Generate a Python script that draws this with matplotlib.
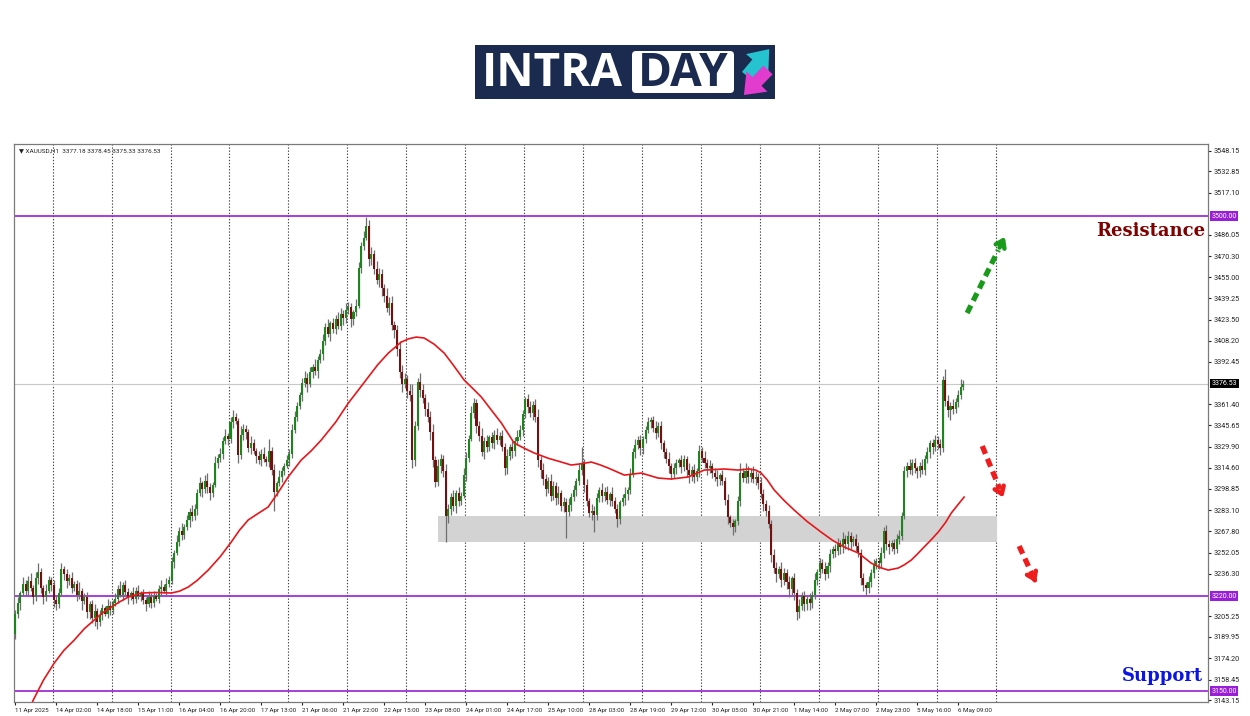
import numpy as np
import matplotlib as mpl
import matplotlib.pyplot as plt
from matplotlib.patches import Rectangle, FancyBboxPatch
from matplotlib.transforms import blended_transform_factory

mpl.rcParams["font.family"] = "DejaVu Sans"

# ---- data ----
first_open = 3192
close_px = [
    3207, 3215, 3222, 3229, 3224, 3231, 3226, 3219, 3233, 3238,
    3226, 3219, 3224, 3232, 3228, 3217, 3214, 3222, 3240, 3236,
    3231, 3233, 3226, 3229, 3221, 3224, 3216, 3219, 3208, 3214,
    3204, 3209, 3201, 3206, 3211, 3207, 3213, 3210, 3215, 3218,
    3225, 3221, 3228, 3223, 3219, 3222, 3218, 3224, 3220, 3222,
    3217, 3214, 3219, 3215, 3220, 3218, 3225, 3227, 3224, 3229,
    3232, 3245, 3252, 3260, 3268, 3265, 3271, 3276, 3282, 3279,
    3284, 3296, 3303, 3299, 3305, 3300, 3296, 3302, 3318, 3322,
    3325, 3334, 3338, 3336, 3348, 3352, 3349, 3324, 3339, 3343,
    3341, 3329, 3333, 3327, 3323, 3320, 3325, 3321, 3319, 3327,
    3313, 3297, 3303, 3308, 3312, 3316, 3320, 3325, 3342, 3352,
    3360, 3368, 3377, 3381, 3376, 3385, 3389, 3386, 3394, 3398,
    3408, 3418, 3413, 3421, 3417, 3424, 3419, 3428, 3425, 3431,
    3433, 3424, 3429, 3434, 3462, 3478, 3484, 3493, 3468, 3472,
    3461, 3453, 3457, 3447, 3441, 3432, 3436, 3420, 3416, 3402,
    3385, 3376, 3380, 3371, 3368, 3320, 3345, 3378, 3372, 3366,
    3358, 3352, 3341, 3320, 3304, 3316, 3321, 3312, 3279, 3284,
    3293, 3286, 3296, 3290, 3294, 3309, 3322, 3336, 3355, 3362,
    3345, 3338, 3326, 3334, 3330, 3337, 3333, 3339, 3335, 3338,
    3330, 3314, 3323, 3330, 3327, 3334, 3337, 3342, 3354, 3365,
    3359, 3355, 3361, 3352, 3320, 3313, 3306, 3299, 3305, 3294,
    3301, 3292, 3296, 3286, 3289, 3282, 3287, 3293, 3298, 3305,
    3313, 3318, 3302, 3290, 3281, 3283, 3280, 3292, 3298, 3294,
    3297, 3291, 3295, 3290, 3284, 3277, 3289, 3292, 3295, 3298,
    3310, 3326, 3331, 3335, 3329, 3336, 3342, 3348, 3350, 3344,
    3340, 3345, 3333, 3326, 3321, 3316, 3310, 3314, 3318, 3320,
    3315, 3321, 3313, 3309, 3313, 3308, 3312, 3327, 3322, 3318,
    3314, 3316, 3311, 3308, 3306, 3309, 3305, 3291, 3278, 3274,
    3271, 3275, 3290, 3311, 3307, 3312, 3308, 3311, 3306, 3308,
    3303, 3295, 3288, 3283, 3273, 3250, 3241, 3236, 3240, 3232,
    3237, 3230, 3225, 3233, 3222, 3208, 3213, 3220, 3214, 3218,
    3215, 3221, 3232, 3238, 3244, 3240, 3236, 3242, 3251, 3255,
    3253, 3259, 3256, 3262, 3258, 3264, 3260, 3262, 3257, 3252,
    3233, 3228, 3226, 3230, 3237, 3243, 3246, 3244, 3252, 3268,
    3258, 3256, 3259, 3255, 3262, 3264, 3279, 3312, 3316, 3313,
    3318, 3314, 3312, 3316, 3313, 3321, 3326, 3333, 3330, 3335,
    3332, 3329, 3379, 3364, 3357, 3360, 3358, 3363, 3368, 3374,
    3376.53,
]
upper_wick = [
    3, 4, 2, 5, 3, 4, 6, 2, 5, 6,  3, 2, 5, 3, 2, 4, 3, 4, 4, 2,
    4, 3, 5, 2, 3, 6, 2, 3, 4, 2,  3, 5, 2, 4, 3, 2, 5, 3, 2, 4,
    3, 6, 2, 4, 3, 2, 5, 3, 4, 2,  3, 2, 5, 3, 4, 2, 3, 5, 2, 4,
    3, 4, 2, 5, 3, 6, 2, 4, 3, 5,  4, 3, 5, 2, 4, 6, 3, 2, 5, 3,
    4, 3, 5, 2, 4, 5, 3, 2, 6, 4,  3, 2, 5, 3, 2, 4, 3, 5, 2, 9,
    3, 4, 2, 5, 3, 2, 4, 3, 5, 4,  3, 2, 4, 5, 3, 4, 2, 6, 3, 4,
    5, 3, 6, 2, 4, 3, 5, 4, 3, 5,  4, 3, 2, 5, 4, 3, 5, 6, 4, 5,
    3, 6, 5, 4, 3, 6, 4, 5, 3, 4,  6, 5, 4, 3, 5, 8, 4, 3, 6, 4,
    3, 5, 4, 6, 3, 5, 4, 3, 5, 4,  3, 5, 2, 4, 3, 5, 4, 3, 5, 4,
    3, 4, 6, 3, 5, 2, 4, 3, 5, 3,  4, 3, 5, 2, 4, 3, 5, 4, 3, 2,
    4, 5, 3, 4, 6, 3, 5, 4, 3, 5,  4, 3, 5, 2, 4, 3, 5, 3, 4, 2,
    4, 12, 3, 4, 2, 5, 3, 4, 2, 5, 3, 4, 2, 5, 3, 4, 2, 3, 5, 2,
    4, 3, 5, 3, 4, 2, 3, 4, 2, 3,  5, 3, 4, 2, 3, 5, 2, 4, 3, 2,
    4, 3, 2, 5, 3, 4, 2, 4, 3, 5,  3, 4, 2, 3, 5, 2, 4, 3, 4, 2,
    3, 2, 4, 7, 3, 6, 4, 3, 5, 4,  3, 5, 4, 3, 4, 3, 5, 4, 2, 5,
    4, 3, 5, 2, 4, 3, 5, 3, 4, 2,  4, 3, 5, 2, 4, 3, 5, 3, 4, 2,
    3, 4, 2, 5, 3, 4, 3, 2, 4, 3,  3, 4, 2, 5, 3, 4, 2, 3, 4, 3,
    4, 3, 2, 3, 4, 5, 3, 4, 3, 5,  3, 4, 2, 3, 5, 3, 4, 2, 3, 4,
    3, 4, 3, 8, 4, 3, 5, 3, 4, 6,
    3,
]
lower_wick = [
    4, 3, 5, 2, 4, 3, 2, 5, 3, 4,  4, 5, 3, 2, 4, 5, 4, 3, 2, 4,
    5, 3, 4, 2, 5, 3, 6, 2, 4, 5,  4, 6, 5, 3, 4, 2, 3, 4, 3, 2,
    3, 2, 4, 3, 5, 2, 4, 3, 2, 4,  3, 5, 2, 4, 3, 2, 3, 4, 2, 3,
    2, 3, 4, 2, 3, 4, 3, 2, 5, 4,  3, 4, 2, 6, 3, 4, 5, 3, 2, 4,
    3, 4, 2, 5, 3, 4, 2, 6, 3, 4,  5, 3, 4, 2, 5, 3, 4, 2, 3, 4,
    4, 14, 3, 2, 4, 3, 2, 4, 3, 2, 3, 2, 4, 3, 6, 2, 4, 3, 5, 2,
    4, 3, 2, 5, 3, 4, 2, 3, 5, 4,  3, 6, 4, 3, 2, 4, 3, 2, 5, 4,
    4, 3, 5, 6, 4, 3, 5, 4, 6, 5,  4, 6, 3, 5, 4, 6, 4, 3, 5, 4,
    5, 4, 6, 5, 4, 3, 5, 4, 19, 5, 4, 3, 5, 4, 3, 2, 4, 3, 2, 4,
    5, 4, 3, 5, 4, 3, 4, 5, 3, 4,  3, 5, 4, 3, 5, 4, 3, 2, 4, 3,
    4, 3, 5, 4, 5, 6, 4, 5, 3, 4,  3, 5, 4, 3, 4, 19, 3, 4, 3, 4,
    3, 4, 5, 4, 3, 5, 13, 4, 3, 5, 4, 3, 5, 4, 3, 6, 4, 3, 5, 4,
    3, 2, 4, 3, 5, 4, 3, 2, 4, 3,  4, 3, 5, 4, 3, 5, 4, 3, 4, 3,
    4, 3, 5, 6, 4, 5, 3, 4, 3, 4,  5, 3, 4, 3, 5, 4, 3, 4, 5, 3,
    6, 4, 3, 4, 3, 4, 5, 4, 3, 4,  4, 3, 5, 4, 3, 5, 4, 6, 3, 5,
    4, 5, 6, 4, 5, 6, 4, 3, 5, 4,  5, 4, 3, 4, 5, 3, 4, 3, 4, 3,
    4, 3, 5, 4, 3, 4, 5, 3, 4, 3,  5, 4, 6, 4, 3, 4, 3, 4, 3, 4,
    4, 5, 3, 4, 3, 4, 3, 2, 4, 3,  4, 3, 5, 4, 3, 4, 3, 4, 5, 3,
    4, 5, 3, 4, 5, 7, 4, 3, 4, 3,
    2,
]

# moving average, read at a set of bar positions
ma_idx = [4, 7, 11, 15.2, 19, 23, 27, 30.8, 34, 37.5, 41, 44.1, 49.2, 55,
          60.9, 64, 67.5, 71, 75.3, 80, 84.3, 87.5, 90.9, 94.5, 98.7, 102.5,
          106.5, 111.6, 115.5, 119.4, 125, 130, 134, 137.8, 141.5, 145.6,
          150.6, 153.5, 156.5, 159.6, 163.5, 167.4, 171, 175.2, 178.5, 181.9,
          185.8, 189.7, 194.7, 198.5, 202.5, 208, 213.1, 217, 221, 224.8,
          228, 231.4, 237.7, 244.3, 250.9, 256, 262.6, 268.9, 276.7, 282.1,
          286.4, 289, 291.1, 293.5, 296.2, 300, 304, 309, 314.5, 319, 323.5,
          329, 334, 337.5, 340.7, 344.6, 347, 349.7, 352, 354.7, 357.5,
          360.2, 363, 365.3, 368, 370.3]
ma_val = [3128, 3143.3, 3158, 3170.6, 3180, 3187.5, 3196, 3202.3, 3207.5,
          3211.9, 3216, 3219.2, 3222.2, 3222.6, 3222.2, 3223.5, 3226.6, 3231.5,
          3239.1, 3249, 3259.8, 3268.5, 3276, 3280.5, 3285.6, 3296, 3307.7,
          3320.2, 3327, 3334.9, 3348, 3362.2, 3372, 3381.4, 3390.5, 3399,
          3407.1, 3409.5, 3410.8, 3410.1, 3405.5, 3399, 3390, 3379.1, 3373,
          3366.6, 3357, 3347.5, 3332.7, 3329, 3325.4, 3321.5, 3318.7, 3316.5,
          3317.5, 3318.7, 3316.8, 3314.3, 3309.1, 3310.6, 3306.9, 3306.2,
          3307.7, 3312.8, 3313.6, 3312.8, 3313.6, 3312.8, 3310.6, 3305.5,
          3298.1, 3290.5, 3283.3, 3275, 3267.1, 3261, 3256.1, 3251.7, 3244.3,
          3241, 3239.1, 3240.6, 3243, 3246.5, 3250.8, 3256.1, 3261.5, 3267.1,
          3274, 3281.1, 3287.5, 3292.9]

# horizontal levels and zone
resistance = 3500.00
support_1 = 3220.00
support_2 = 3150.00
last_price = 3376.53
zone_low, zone_high = 3259.8, 3278.9
zone_start, zone_end = 165, 383

ytick_vals = [3548.15, 3532.85, 3517.10, 3486.05, 3470.30, 3455.00, 3439.25,
              3423.50, 3408.20, 3392.45, 3361.40, 3345.65, 3329.90, 3314.60,
              3298.85, 3283.10, 3267.80, 3252.05, 3236.30, 3205.25, 3189.95,
              3174.20, 3158.45, 3143.15]
xtick_labels = ["11 Apr 2025", "14 Apr 02:00", "14 Apr 18:00", "15 Apr 11:00",
                "16 Apr 04:00", "16 Apr 20:00", "17 Apr 13:00", "21 Apr 06:00",
                "21 Apr 22:00", "22 Apr 15:00", "23 Apr 08:00", "24 Apr 01:00",
                "24 Apr 17:00", "25 Apr 10:00", "28 Apr 03:00", "28 Apr 19:00",
                "29 Apr 12:00", "30 Apr 05:00", "30 Apr 21:00", "1 May 14:00",
                "2 May 07:00", "2 May 23:00", "5 May 16:00", "6 May 09:00"]
bars_per_label = 16
bars_per_day = 23

# ---- build OHLC ----
close_px = np.array(close_px, dtype=float)
open_px = np.concatenate([[first_open], close_px[:-1]])
body_top = np.maximum(open_px, close_px)
body_bot = np.minimum(open_px, close_px)
high_px = body_top + np.array(upper_wick)
low_px = body_bot - np.array(lower_wick)
idx = np.arange(len(close_px))
bull = close_px >= open_px

# ---- figure ----
fig = plt.figure(figsize=(12.5, 7.16), dpi=100)
ax = fig.add_axes([14 / 1250, 1 - 702 / 716, 1194 / 1250, 558 / 716])

ax.set_xlim(-0.5, 465.5)
ax.set_ylim(3141.9, 3553.06)

# day separators
for k in range(17):
    ax.axvline(14.6 + bars_per_day * k, color="#444444", lw=0.8,
               linestyle=(0, (1.2, 1.6)), zorder=1)

# support / resistance zone
ax.add_patch(Rectangle((zone_start, zone_low), zone_end - zone_start,
                       zone_high - zone_low, facecolor="#d3d3d3",
                       edgecolor="none", zorder=1.5))

# levels
for lvl in [resistance, support_1, support_2]:
    ax.axhline(lvl, color="#9a1ed8", lw=1.2, zorder=2)
ax.axhline(last_price, color="#c8c8c8", lw=0.8, zorder=1.6)

# candles
ax.vlines(idx, low_px, high_px, color="#6e6e6e", lw=0.9, zorder=3)
heights = np.maximum(body_top - body_bot, 0.6)
ax.bar(idx, heights, bottom=body_bot, width=0.8,
       color=np.where(bull, "#1c861c", "#761010"), edgecolor="none", zorder=4)

# moving average
ax.plot(ma_idx, ma_val, color="#e8161b", lw=1.2, zorder=5)

# scenario arrows
def dashed_arrow(x0, y0, x1, y1, color):
    fx = x0 + (x1 - x0) * 0.8
    fy = y0 + (y1 - y0) * 0.8
    ax.plot([x0, fx], [y0, fy], color=color, lw=3.8,
            linestyle=(0, (1.6, 1.0)), solid_capstyle="butt", zorder=6)
    ax.annotate("", xy=(x1, y1), xytext=(fx, fy),
                arrowprops=dict(arrowstyle="->,head_length=0.5,head_width=0.35",
                                color=color, lw=3.2), zorder=6)

dashed_arrow(371.5, 3428.5, 386.7, 3486.5, "#1a9a1a")
dashed_arrow(377.4, 3330.5, 386.0, 3290.7, "#ee1c1c")
dashed_arrow(391.8, 3256.8, 398.8, 3228.0, "#ee1c1c")

# axes styling
for s in ax.spines.values():
    s.set_color("#7a7a7a")
    s.set_linewidth(0.9)

ax.yaxis.tick_right()
ax.set_yticks(ytick_vals)
ax.set_yticklabels([f"{v:.2f}" for v in ytick_vals], family="Roboto")
ax.tick_params(axis="y", labelsize=5.2, length=2.5, pad=1.5, colors="#222222")

xt = [i * bars_per_label for i in range(len(xtick_labels))]
ax.set_xticks(xt)
ax.set_xticklabels(xtick_labels, ha="left", family="Roboto")
ax.tick_params(axis="x", labelsize=4.5, length=2.5, pad=1.5, colors="#222222")

# price tags on the right axis
tr = blended_transform_factory(ax.transAxes, ax.transData)
for lvl, bg in [(resistance, "#9a1ed8"), (support_1, "#9a1ed8"),
                (support_2, "#9a1ed8"), (last_price, "#000000")]:
    ax.text(1.003, lvl, f"{lvl:.2f}", transform=tr, ha="left", va="center",
            fontsize=5.0, color="white", zorder=10, clip_on=False,
            family="Roboto",
            bbox=dict(boxstyle="square,pad=0.2", fc=bg, ec="none"))

ax.text(0.004, 0.992, "\u25bc XAUUSD,H1  3377.18 3378.45 3375.33 3376.53",
        transform=ax.transAxes, ha="left", va="top", fontsize=4.6,
        color="#222222", family=["Roboto", "DejaVu Sans"])

# ---- overlay in pixel units: logo and labels ----
ov = fig.add_axes([0, 0, 1, 1])
ov.set_xlim(0, 1250)
ov.set_ylim(716, 0)
ov.axis("off")
ov.patch.set_alpha(0)

ov.add_patch(Rectangle((475, 45), 300, 54, facecolor="#1b2b4f", edgecolor="none"))
ov.add_patch(FancyBboxPatch((632, 51), 102, 42,
                            boxstyle="round,pad=0,rounding_size=4",
                            facecolor="white", edgecolor="none"))
ov.text(482, 73, "INTRA", color="white", fontsize=33, fontweight="bold",
        ha="left", va="center", family="Open Sans")
ov.text(683, 73, "DAY", color="#1b2b4f", fontsize=33, fontweight="bold",
        ha="center", va="center", family="Open Sans")
ov.annotate("", xy=(771, 47), xytext=(745, 78),
            arrowprops=dict(arrowstyle="simple,head_width=1.4,head_length=0.9,tail_width=0.6",
                            fc="#25c2cf", ec="none", mutation_scale=15))
ov.annotate("", xy=(742, 97), xytext=(770, 68),
            arrowprops=dict(arrowstyle="simple,head_width=1.4,head_length=0.9,tail_width=0.6",
                            fc="#e23ccf", ec="none", mutation_scale=15))

ov.text(1205, 231, "Resistance", color="#800000", fontsize=13,
        fontweight="bold", family="DejaVu Serif", ha="right", va="center")
ov.text(1203, 676, "Support", color="#0a14e6", fontsize=13,
        fontweight="bold", family="DejaVu Serif", ha="right", va="center")

fig.savefig("out.png", dpi=100)
